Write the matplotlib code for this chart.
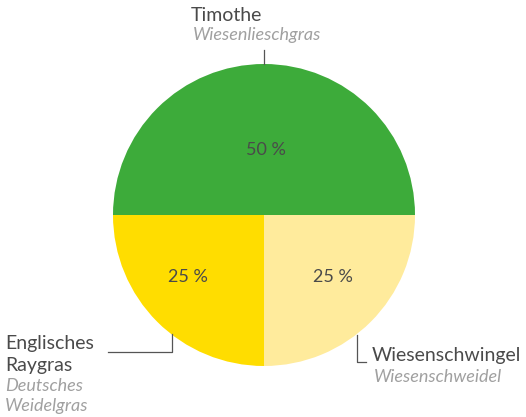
import matplotlib.pyplot as plt

plt.rcParams['font.family'] = ['Lato', 'DejaVu Sans']

names = ["Timothe", "Englisches", "Raygras", "Wiesenschwingel"]
subnames = ["Wiesenlieschgras", "Deutsches", "Weidelgras", "Wiesenschweidel"]
shares = [50, 25, 25]
colors = ["#3dab3a", "#ffdd00", "#ffeb9c"]

W, H = 526, 417
fig = plt.figure(figsize=(W / 100, H / 100), dpi=100)
ax = fig.add_axes([0, 0, 1, 1])

cx, cy, r = 264, H - 215, 151
ax.pie(shares, colors=colors, startangle=0, counterclock=True,
       center=(cx, cy), radius=r, frame=True, wedgeprops=dict(linewidth=0))
ax.set_xlim(0, W)
ax.set_ylim(0, H)
ax.set_aspect('equal')
ax.axis('off')

dark = "#4a4a4a"
grey = "#a0a0a0"

# percent labels
pct_pos = [(266, 150), (188, 277), (333, 277)]
for (px, py), s in zip(pct_pos, shares):
    ax.text(px, H - py, f"{s} %", ha='center', va='center', fontsize=13, color=dark)

# leader lines
lc = "#555555"
ax.plot([264, 264], [H - 50, H - 64], color=lc, lw=0.9)
ax.plot([108, 172, 172], [H - 352, H - 352, H - 334], color=lc, lw=0.9)
ax.plot([357, 357, 366], [H - 335, H - 362, H - 362], color=lc, lw=0.9)

# category labels: (x, y, text, main?)
labels = [
    (191, 15, names[0], True), (193, 35, subnames[0], False),
    (5, 343, names[1], True), (5, 365, names[2], True),
    (5, 386, subnames[1], False), (5, 406, subnames[2], False),
    (372, 355, names[3], True), (374, 377, subnames[3], False),
]
for x, y, t, main in labels:
    if main:
        ax.text(x, H - y, t, ha='left', va='center', fontsize=14, color=dark)
    else:
        ax.text(x, H - y, t, ha='left', va='center', fontsize=13,
                color=grey, style='italic')

fig.savefig("out.png", dpi=100)
